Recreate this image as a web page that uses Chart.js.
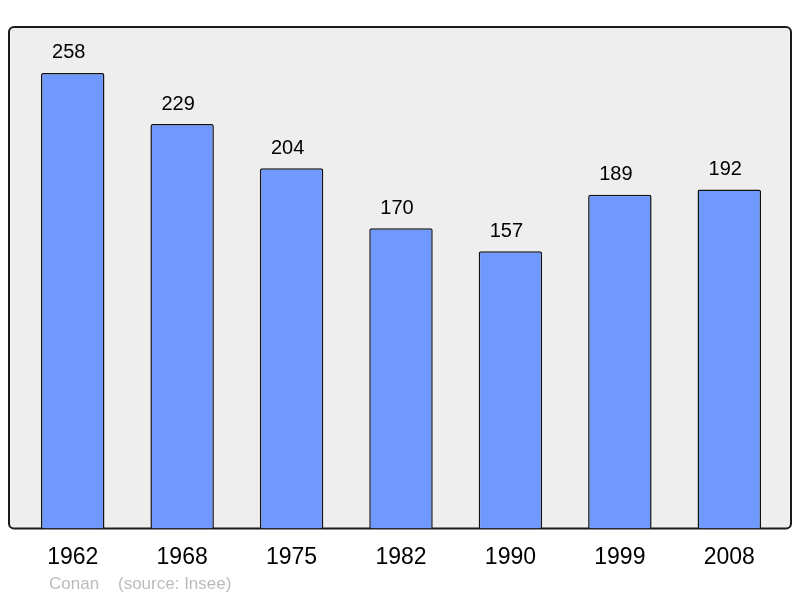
<!DOCTYPE html>
<html>
<head>
<meta charset="utf-8">
<script src="https://cdn.jsdelivr.net/npm/chart.js@4/dist/chart.umd.min.js"></script>
<style>
  html, body { margin: 0; padding: 0; background: #fff; }
  canvas { display: block; }
</style>
</head>
<body>
<canvas id="myChart" width="800" height="598"></canvas>
<script>
(() => {
    'use strict'

    // data
    const years = ['1962', '1968', '1975', '1982', '1990', '1999', '2008'];
    const population = [258, 229, 204, 170, 157, 189, 192];
    const credit = ['Conan', '(source: Insee)'];

    // gray panel with a rounded black frame behind the bars
    const panel = {
        id: 'panel',
        beforeDraw(chart) {
            const { ctx, chartArea: a } = chart;
            const x = a.left - 9, y = a.top, w = a.right - a.left + 16, h = a.bottom - a.top;
            ctx.save();
            ctx.beginPath();
            ctx.roundRect(x, y, w, h, 5);
            ctx.fillStyle = '#eeeeee';
            ctx.fill();
            ctx.lineWidth = 2;
            ctx.strokeStyle = '#1a1a1a';
            ctx.stroke();
            ctx.restore();
        }
    };

    // value above every bar + credit line at the bottom
    const labels = {
        id: 'labels',
        afterDatasetsDraw(chart) {
            const { ctx } = chart;
            const meta = chart.getDatasetMeta(0);
            ctx.save();
            ctx.font = '20px "Liberation Sans", Arial, sans-serif';
            ctx.fillStyle = '#000';
            ctx.textAlign = 'center';
            ctx.textBaseline = 'middle';
            meta.data.forEach((bar, i) => {
                ctx.fillText(String(population[i]), bar.x - 4, bar.y - 20);
            });
            ctx.font = '17px "Liberation Sans", Arial, sans-serif';
            ctx.fillStyle = '#bbbbbb';
            ctx.textAlign = 'left';
            ctx.fillText(credit[0], 49, 584);
            ctx.fillText(credit[1], 118, 584);
            ctx.restore();
        }
    };

    const ctx = document.getElementById('myChart');

    new Chart(ctx, {
        type: 'bar',
        data: {
            labels: years,
            datasets: [{
                data: population,
                backgroundColor: '#7099ff',
                borderColor: '#111',
                borderWidth: 1.5,
                borderRadius: 2,
                borderSkipped: 'bottom',
                barPercentage: 0.58,
                categoryPercentage: 1
            }]
        },
        options: {
            responsive: false,
            animation: false,
            layout: {
                padding: { left: 18, right: 16, top: 27, bottom: 12 }
            },
            scales: {
                x: {
                    grid: { display: false, drawTicks: false },
                    border: { display: false },
                    ticks: {
                        color: '#000',
                        padding: 15,
                        font: { family: '"Liberation Sans", Arial, sans-serif', size: 23 }
                    }
                },
                y: {
                    display: false,
                    min: 0,
                    max: 284
                }
            },
            plugins: {
                legend: { display: false },
                tooltip: { enabled: false }
            }
        },
        plugins: [panel, labels]
    });
})()
</script>
</body>
</html>
